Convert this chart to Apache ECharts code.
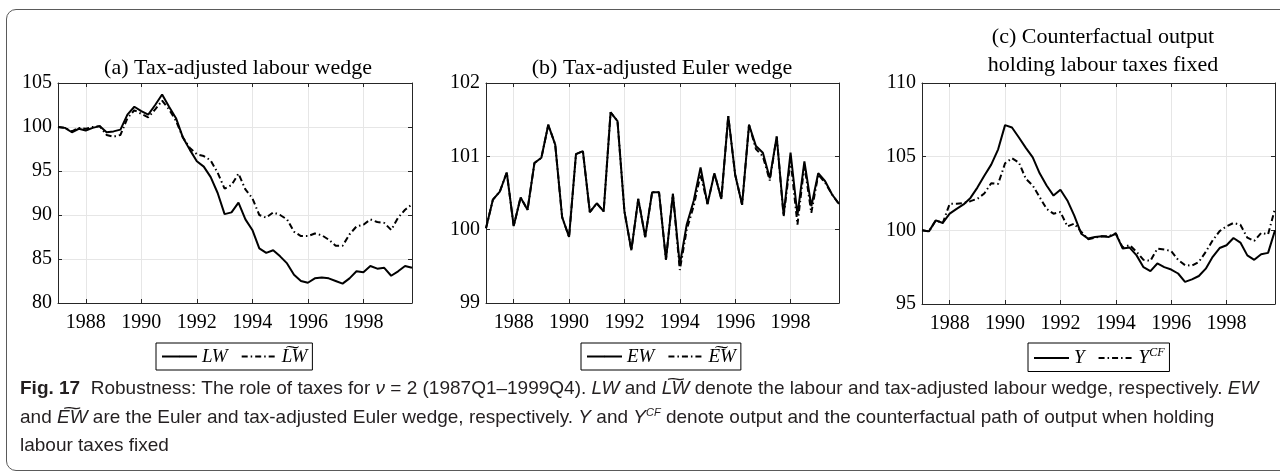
<!DOCTYPE html>
<html>
<head>
<meta charset="utf-8">
<script src="https://cdn.jsdelivr.net/npm/echarts@6/dist/echarts.min.js"></script>
<style>
  html, body { margin: 0; padding: 0; width: 1280px; height: 473px; overflow: hidden; background: #fff; }
  #frame { position: absolute; left: 6px; top: 9px; width: 1320px; height: 460px; border: 1px solid #5a5a5a; border-radius: 10px; }
  #chart { position: absolute; left: 0; top: 0; width: 1280px; height: 378px; }
  #caption {
    position: absolute; left: 20px; top: 374px; white-space: nowrap;
    font-family: "Liberation Sans", sans-serif;
    font-size: 19px; line-height: 28.5px; color: #231f20;
  }
  #caption .tl { position: relative; }
  #caption .tl::before { content: "~"; position: absolute; left: 0; right: 0; top: -0.62em; text-align: center; font-style: normal; transform: scaleX(1.7); }
  #caption sup { font-size: 11px; font-style: italic; line-height: 0; }
</style>
</head>
<body>
<div id="frame"></div>
<div id="chart"></div>
<div id="caption"><b>Fig. 17</b>&nbsp; Robustness: The role of taxes for <i>ν</i> = 2 (1987Q1–1999Q4). <i>LW</i> and <i class="tl">LW</i> denote the labour and tax-adjusted labour wedge, respectively. <i>EW</i><br>and <i class="tl">EW</i> are the Euler and tax-adjusted Euler wedge, respectively. <i>Y</i> and <i>Y</i><sup>CF</sup> denote output and the counterfactual path of output when holding<br>labour taxes fixed</div>
<script>
  // quarters 1987Q1 .. 1999Q4
  var years = [1987, 1988, 1989, 1990, 1991, 1992, 1993, 1994, 1995, 1996, 1997, 1998, 1999];
  var quarters = [];
  years.forEach(function (y) {
    ['Q1', 'Q2', 'Q3', 'Q4'].forEach(function (q) { quarters.push(y + q); });
  });
  var tickYears = ['1988', '1990', '1992', '1994', '1996', '1998'];

  // (a) labour wedge
  var lw = [100.0, 99.9, 99.4, 99.8, 99.6, 99.9, 100.1, 99.4, 99.5, 99.7,
    101.4, 102.3, 101.8, 101.4, 102.5, 103.7, 102.3, 101.0, 98.8, 97.4,
    96.1, 95.5, 94.3, 92.5, 90.1, 90.3, 91.4, 89.5, 88.3, 86.2,
    85.7, 86.0, 85.3, 84.5, 83.2, 82.5, 82.3, 82.8, 82.9, 82.8,
    82.5, 82.2, 82.8, 83.6, 83.5, 84.2, 83.9, 84.0, 83.1, 83.6,
    84.2, 84.0];
  var lwTax = [100.0, 99.9, 99.5, 99.9, 99.8, 100.0, 100.1, 99.1, 98.9, 99.1,
    101.0, 101.9, 101.5, 101.1, 102.0, 103.0, 102.0, 100.7, 98.8, 97.6,
    96.9, 96.7, 96.2, 94.8, 93.0, 93.4, 94.7, 92.9, 91.9, 90.0,
    89.7, 90.3, 90.0, 89.5, 88.1, 87.6, 87.6, 87.9, 87.7, 87.2,
    86.5, 86.5, 87.8, 88.7, 88.9, 89.5, 89.2, 89.1, 88.3, 89.7,
    90.6, 91.2];

  // (b) Euler wedge
  var ew = [100.02, 100.41, 100.52, 100.78, 100.05, 100.44, 100.27, 100.91, 100.98, 101.43,
    101.16, 100.17, 99.90, 101.03, 101.07, 100.24, 100.36, 100.25, 101.60, 101.48,
    100.25, 99.72, 100.42, 99.90, 100.51, 100.51, 99.59, 100.49, 99.52, 100.07,
    100.39, 100.85, 100.35, 100.77, 100.42, 101.55, 100.75, 100.34, 101.43, 101.14,
    101.05, 100.70, 101.27, 100.20, 101.05, 100.20, 100.93, 100.32, 100.77, 100.66,
    100.48, 100.35];
  var ewTax = [100.02, 100.41, 100.52, 100.78, 100.05, 100.44, 100.27, 100.91, 100.98, 101.43,
    101.16, 100.17, 99.90, 101.03, 101.07, 100.24, 100.36, 100.25, 101.60, 101.48,
    100.25, 99.72, 100.42, 99.90, 100.51, 100.51, 99.59, 100.49, 99.45, 100.00,
    100.32, 100.75, 100.35, 100.77, 100.42, 101.55, 100.75, 100.34, 101.43, 101.10,
    101.00, 100.67, 101.27, 100.18, 100.95, 100.07, 100.88, 100.23, 100.75, 100.64,
    100.48, 100.35];

  // (c) output and counterfactual output
  var y = [100.0, 99.93, 100.68, 100.5, 101.13, 101.46, 101.76, 102.2, 102.9, 103.7,
    104.46, 105.5, 107.14, 106.98, 106.3, 105.6, 104.95, 103.87, 103.04, 102.36,
    102.75, 102.03, 101.0, 99.77, 99.44, 99.55, 99.6, 99.55, 99.77, 98.76,
    98.83, 98.3, 97.5, 97.23, 97.75, 97.5, 97.34, 97.07, 96.5, 96.67,
    96.9, 97.4, 98.2, 98.8, 98.99, 99.48, 99.17, 98.3, 98.0, 98.38,
    98.47, 100.0];
  var yCf = [100.0, 99.93, 100.68, 100.5, 101.8, 101.8, 101.85, 101.98, 102.14, 102.5,
    103.2, 103.15, 104.55, 104.9, 104.6, 103.5, 103.04, 102.25, 101.46, 101.13,
    101.24, 100.27, 100.45, 99.9, 99.4, 99.5, 99.6, 99.6, 99.8, 98.83,
    99.0, 98.54, 98.0, 97.93, 98.76, 98.7, 98.6, 98.0, 97.64, 97.6,
    97.86, 98.54, 99.32, 99.95, 100.27, 100.5, 100.38, 99.5, 99.28, 99.82,
    99.73, 101.46];

  var serif = 'Liberation Serif';
  var axisColor = '#262626';
  var dashDot = [6, 3, 1.5, 3];

  function isTick(idx, val) {
    return val.slice(4) === 'Q1' && tickYears.indexOf(val.slice(0, 4)) >= 0;
  }

  var grids = [
    { left: 58, top: 83, width: 354, height: 220 },
    { left: 486, top: 83, width: 353, height: 220 },
    { left: 922, top: 83, width: 353, height: 221 }
  ];
  var yRanges = [[80, 105, 5], [99, 102, 1], [95, 110, 5]];

  var xAxes = [], yAxes = [];
  grids.forEach(function (g, i) {
    ['bottom', 'top'].forEach(function (pos) {
      xAxes.push({
        type: 'category', gridIndex: i, position: pos, data: quarters, boundaryGap: false,
        axisLine: { show: true, onZero: false, lineStyle: { color: axisColor, width: 1 } },
        axisTick: { show: true, inside: true, length: 4, interval: isTick, lineStyle: { color: axisColor } },
        axisLabel: {
          show: pos === 'bottom', interval: isTick, margin: 10,
          formatter: function (v) { return v.slice(0, 4); },
          color: '#000', fontFamily: serif, fontSize: 20
        },
        splitLine: { show: pos === 'bottom', interval: isTick, lineStyle: { color: '#e6e6e6', width: 1 } }
      });
    });
    ['left', 'right'].forEach(function (pos) {
      yAxes.push({
        type: 'value', gridIndex: i, position: pos,
        min: yRanges[i][0], max: yRanges[i][1], interval: yRanges[i][2],
        axisLine: { show: true, lineStyle: { color: axisColor, width: 1 } },
        axisTick: { show: true, inside: true, length: 4, lineStyle: { color: axisColor } },
        axisLabel: { show: pos === 'left', margin: 6, color: '#000', fontFamily: serif, fontSize: 20 },
        splitLine: { show: pos === 'left', lineStyle: { color: '#e6e6e6', width: 1 } }
      });
    });
  });

  function line(name, data, gi, dashed) {
    return {
      name: name, type: 'line', data: data,
      xAxisIndex: gi * 2, yAxisIndex: gi * 2,
      symbol: 'none', showSymbol: false,
      lineStyle: { color: '#000', width: 2, type: dashed ? dashDot : 'solid' },
      itemStyle: { color: '#000' }
    };
  }

  var legendText = { fontFamily: serif, fontSize: 19, fontStyle: 'italic', color: '#000',
    rich: {
      i: { fontFamily: serif, fontSize: 19, fontStyle: 'italic', color: '#000' },
      sup: { fontFamily: serif, fontSize: 12, fontStyle: 'italic', color: '#000', padding: [0, 0, 10, 0] }
    }
  };
  var legendNames = {
    'LW': '{i|LW}', 'LWt': '{i|L\u0360W}',
    'EW': '{i|EW}', 'EWt': '{i|E\u0360W}',
    'Y': '{i|Y}', 'YCF': '{i|Y}{sup|CF}'
  };
  function legend(names, left) {
    return {
      data: names, left: left, top: 343, orient: 'horizontal', selectedMode: false,
      borderColor: '#000', borderWidth: 1, borderRadius: 0, padding: [4, 5],
      itemWidth: 35, itemHeight: 2, itemGap: 13,
      formatter: function (n) { return legendNames[n]; },
      textStyle: legendText
    };
  }

  var titleStyle = { fontFamily: serif, fontSize: 22, fontWeight: 'normal', color: '#000', lineHeight: 28 };

  var myChart = echarts.init(document.getElementById('chart'));
  var option = {
    animation: false,
    title: [
      { text: '(a) Tax-adjusted labour wedge', left: 238, top: 54, textAlign: 'center', padding: 0, textStyle: titleStyle },
      { text: '(b) Tax-adjusted Euler wedge', left: 662, top: 54, textAlign: 'center', padding: 0, textStyle: titleStyle },
      { text: '(c) Counterfactual output\nholding labour taxes fixed', left: 1103, top: 23, textAlign: 'center', padding: 0, textStyle: titleStyle }
    ],
    grid: grids,
    xAxis: xAxes,
    yAxis: yAxes,
    legend: [
      legend(['LW', 'LWt'], 156),
      legend(['EW', 'EWt'], 581),
      legend(['Y', 'YCF'], 1028)
    ],
    series: [
      line('LW', lw, 0, false),
      line('LWt', lwTax, 0, true),
      line('EW', ew, 1, false),
      line('EWt', ewTax, 1, true),
      line('Y', y, 2, false),
      line('YCF', yCf, 2, true)
    ]
  };
  myChart.setOption(option);
  window.addEventListener('resize', function () {
    myChart.resize();
  });
</script>
</body>
</html>
